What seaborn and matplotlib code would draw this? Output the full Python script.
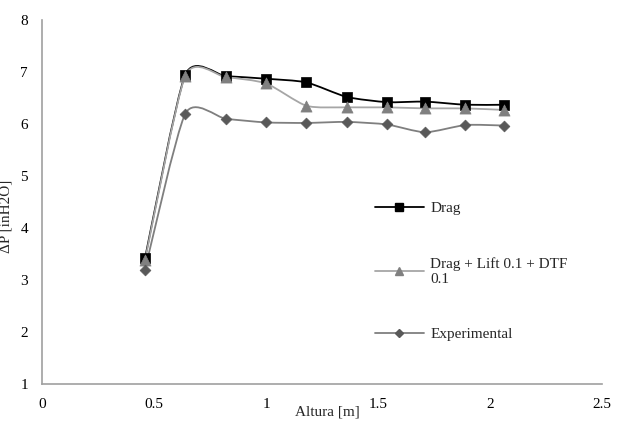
import numpy as np
import matplotlib
matplotlib.use("Agg")
import matplotlib.pyplot as plt
import seaborn as sns
from matplotlib.path import Path
from matplotlib.patches import PathPatch
from matplotlib.lines import Line2D

# ---- data ----
altura = [0.46, 0.64, 0.82, 1.00, 1.18, 1.36, 1.54, 1.71, 1.89, 2.06]
drag = [3.42, 6.95, 6.92, 6.87, 6.80, 6.52, 6.42, 6.43, 6.37, 6.37]
drag_lift = [3.38, 6.93, 6.90, 6.78, 6.35, 6.32, 6.32, 6.30, 6.30, 6.27]
experimental = [3.20, 6.20, 6.10, 6.03, 6.02, 6.04, 5.99, 5.84, 5.98, 5.97]
labels = ["Drag", "Drag + Lift 0.1 + DTF\n0.1", "Experimental"]
xticks = [0, 0.5, 1, 1.5, 2, 2.5]
yticks = [1, 2, 3, 4, 5, 6, 7, 8]

sns.set_theme(style="white")
plt.rcParams['font.family'] = ['Liberation Serif', 'DejaVu Serif']

fig = plt.figure(figsize=(6.17, 4.25), dpi=100)
ax = fig.add_axes([0.068, 0.0965, 0.908, 0.8565])

styles = [
    dict(line="#000000", mfc="#000000", marker="s", ms=7.5, lw=1.3),
    dict(line="#a6a6a6", mfc="#808080", marker="^", ms=8, lw=1.3),
    dict(line="#7f7f7f", mfc="#595959", marker="D", ms=5.5, lw=1.3),
]

def smooth_path(xs, ys, k=0.11):
    pts = np.column_stack([xs, ys])
    n = len(pts)
    verts = [pts[0]]
    codes = [Path.MOVETO]
    for i in range(n - 1):
        p0 = pts[i - 1] if i > 0 else pts[i]
        p1 = pts[i]
        p2 = pts[i + 1]
        p3 = pts[i + 2] if i + 2 < n else pts[i + 1]
        c1 = p1 + (p2 - p0) * k
        c2 = p2 - (p3 - p1) * k
        verts += [c1, c2, p2]
        codes += [Path.CURVE4] * 3
    return Path(verts, codes)

series = [drag, drag_lift, experimental]
handles = []
for ys, st, lab in zip(series, styles, labels):
    patch = PathPatch(smooth_path(altura, ys), facecolor="none",
                      edgecolor=st["line"], lw=st["lw"], zorder=2)
    ax.add_patch(patch)
    sns.scatterplot(x=altura, y=ys, marker=st["marker"], s=st["ms"] ** 2,
                    color=st["mfc"], edgecolor=st["mfc"], linewidth=0.5,
                    ax=ax, zorder=3, legend=False)
    handles.append(Line2D([], [], color=st["line"], lw=st["lw"],
                          marker=st["marker"], markersize=st["ms"] * 0.75,
                          markerfacecolor=st["mfc"], markeredgecolor=st["mfc"],
                          label=lab))

ax.set_xlim(0, 2.5)
ax.set_ylim(1, 8)
ax.set_xticks(xticks)
ax.set_xticklabels([f"{t:g}" for t in xticks])
ax.set_yticks(yticks)
ax.set_yticklabels([f"{t:g}" for t in yticks])
ax.tick_params(axis="both", which="both", direction="out", length=4,
               width=1, color="#a0a0a0", labelsize=11, labelcolor="#000000", pad=6)
for side in ["top", "right"]:
    ax.spines[side].set_visible(False)
for side in ["left", "bottom"]:
    ax.spines[side].set_color("#a0a0a0")
    ax.spines[side].set_linewidth(1.2)

ax.set_xlabel("Altura [m]", fontsize=11)
ax.xaxis.set_label_coords(0.51, -0.06)
ax.set_ylabel("ΔP [inH2O]", fontsize=11)
ax.yaxis.set_label_coords(-0.052, 0.46)

leg = ax.legend(handles=handles, loc="upper left", bbox_to_anchor=(0.57, 0.54),
                frameon=False, fontsize=11, handlelength=3.2, labelspacing=2.75,
                handletextpad=0.4)

fig.savefig("out.png", dpi=100, facecolor="white")
